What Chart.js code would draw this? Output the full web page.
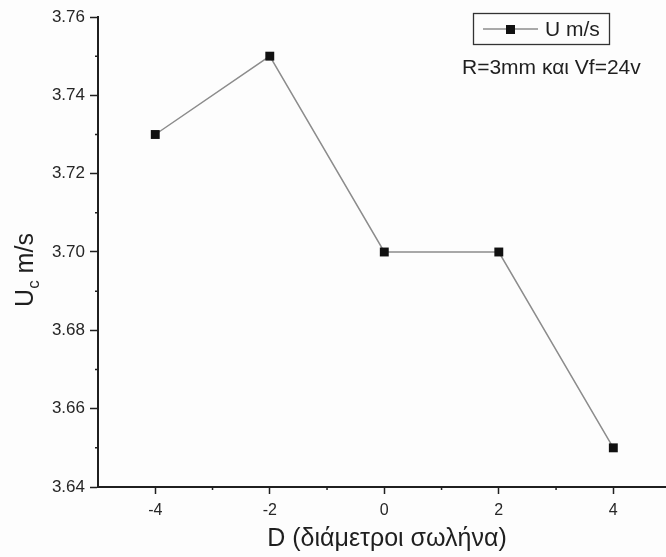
<!DOCTYPE html>
<html>
<head>
<meta charset="utf-8">
<script src="https://cdn.jsdelivr.net/npm/chart.js@4.4.1/dist/chart.umd.min.js"></script>
<style>
  html, body { margin: 0; padding: 0; background: #fdfdfd; overflow: hidden; }
  #wrap { width: 666px; height: 557px; }
</style>
</head>
<body>
<div id="wrap"><canvas id="c" width="666" height="557"></canvas></div>
<script>
// Centreline velocity versus position in pipe diameters
const positions = [-4, -2, 0, 2, 4];
const velocities = [3.73, 3.75, 3.70, 3.70, 3.65];
const xTickValues = [-4, -2, 0, 2, 4];
const yTickValues = [3.64, 3.66, 3.68, 3.70, 3.72, 3.74, 3.76];
const xMinorValues = [-3, -1, 1, 3];
const yMinorValues = [3.65, 3.67, 3.69, 3.71, 3.73, 3.75];

const seriesLabel = 'U m/s';
const noteText = 'R=3mm και Vf=24v';
const xTitle = 'D (διάμετροι σωλήνα)';

const FONT = '"Liberation Sans", Arial, sans-serif';
const INK = '#1f1f1f';

// minor ticks, axis titles and legend box
const decorations = {
  id: 'decorations',
  afterDraw(chart) {
    const ctx = chart.ctx;
    const xs = chart.scales.x, ys = chart.scales.y;
    const area = chart.chartArea;
    ctx.save();
    ctx.strokeStyle = INK;
    ctx.lineWidth = 1.5;
    ctx.beginPath();
    xMinorValues.forEach(v => {
      const px = xs.getPixelForValue(v);
      ctx.moveTo(px, area.bottom);
      ctx.lineTo(px, area.bottom + 3);
    });
    yMinorValues.forEach(v => {
      const py = ys.getPixelForValue(v);
      ctx.moveTo(area.left, py);
      ctx.lineTo(area.left - 3, py);
    });
    ctx.stroke();

    // x title
    ctx.fillStyle = INK;
    ctx.font = '25px ' + FONT;
    ctx.textAlign = 'center';
    ctx.textBaseline = 'middle';
    ctx.fillText(xTitle, 387, 539);

    // y title with subscript
    ctx.save();
    ctx.translate(25, 270);
    ctx.rotate(-Math.PI / 2);
    ctx.textAlign = 'left';
    ctx.textBaseline = 'alphabetic';
    const big = '25px ' + FONT, small = '17px ' + FONT;
    ctx.font = big; const wU = ctx.measureText('U').width;
    ctx.font = small; const wc = ctx.measureText('c').width;
    ctx.font = big; const wRest = ctx.measureText(' m/s').width;
    const total = wU + wc + wRest;
    let x0 = -total / 2;
    ctx.font = big; ctx.fillText('U', x0, 8);
    ctx.font = small; ctx.fillText('c', x0 + wU, 14);
    ctx.font = big; ctx.fillText(' m/s', x0 + wU + wc, 8);
    ctx.restore();

    // legend box
    const ds = chart.data.datasets[0];
    ctx.strokeStyle = '#333';
    ctx.lineWidth = 1.3;
    ctx.strokeRect(473.5, 13.5, 136, 31);
    ctx.strokeStyle = ds.borderColor;
    ctx.lineWidth = ds.borderWidth;
    ctx.beginPath();
    ctx.moveTo(483, 29);
    ctx.lineTo(538, 29);
    ctx.stroke();
    ctx.fillStyle = ds.pointBackgroundColor;
    ctx.fillRect(506, 25, 9, 9);
    ctx.fillStyle = INK;
    ctx.font = '21px ' + FONT;
    ctx.textAlign = 'left';
    ctx.textBaseline = 'middle';
    ctx.fillText(seriesLabel, 545, 30);
    ctx.fillText(noteText, 462, 68);
    ctx.restore();
  }
};

new Chart(document.getElementById('c'), {
  type: 'line',
  data: {
    datasets: [{
      label: seriesLabel,
      data: positions.map((x, i) => ({ x: x, y: velocities[i] })),
      borderColor: '#8c8c8c',
      borderWidth: 1.5,
      pointStyle: 'rect',
      pointRadius: 6.3,
      pointBackgroundColor: '#111',
      pointBorderColor: '#111',
      pointBorderWidth: 0,
      tension: 0
    }]
  },
  options: {
    responsive: false,
    animation: false,
    layout: { autoPadding: false, padding: { top: 17, right: 0, left: 0, bottom: 0 } },
    plugins: { legend: { display: false }, tooltip: { enabled: false } },
    scales: {
      x: {
        type: 'linear',
        min: -5,
        max: 4.92,
        afterBuildTicks: s => { s.ticks = xTickValues.map(v => ({ value: v })); },
        afterFit: s => { s.height = 70; },
        border: { color: INK, width: 2 },
        grid: { drawOnChartArea: false, tickLength: 7, tickColor: INK, tickWidth: 1.5 },
        ticks: {
          color: '#262626',
          font: { family: FONT, size: 16 },
          padding: 7,
          maxRotation: 0,
          callback: v => String(v)
        }
      },
      y: {
        min: 3.64,
        max: 3.76,
        afterBuildTicks: s => { s.ticks = yTickValues.map(v => ({ value: v })); },
        afterFit: s => { s.width = 98; },
        border: { color: INK, width: 2 },
        grid: { drawOnChartArea: false, tickLength: 8, tickColor: INK, tickWidth: 1.5 },
        ticks: {
          color: '#262626',
          font: { family: FONT, size: 17 },
          padding: 5,
          callback: v => Number(v).toFixed(2)
        }
      }
    }
  },
  plugins: [decorations]
});
</script>
</body>
</html>
